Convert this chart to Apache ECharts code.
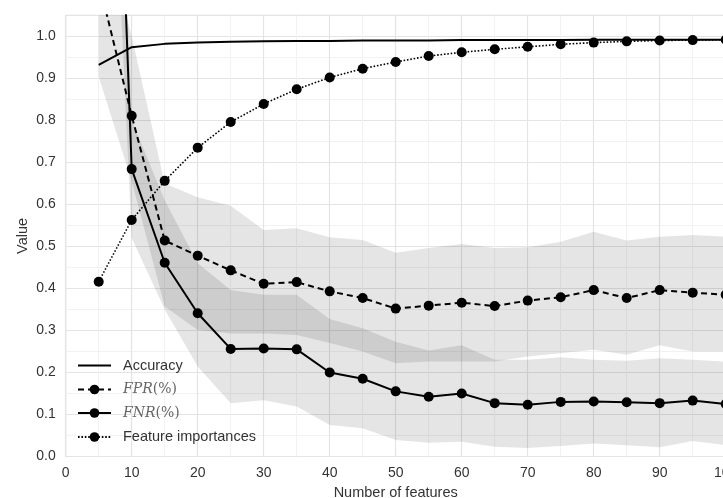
<!DOCTYPE html>
<html>
<head>
<meta charset="utf-8">
<script src="https://cdn.jsdelivr.net/npm/echarts@6/dist/echarts.min.js"></script>
<style>
  html, body { margin: 0; padding: 0; background: #fff; }
  #chart { width: 723px; height: 498px; }
</style>
</head>
<body>
<div id="chart"></div>
<script>
// number of features on the x axis
const features = [5, 10, 15, 20, 25, 30, 35, 40, 45, 50, 55, 60, 65, 70, 75, 80, 85, 90, 95, 100];

// mean curves
const accuracy = [0.932, 0.974, 0.982, 0.985, 0.987, 0.988, 0.989, 0.989, 0.990, 0.990, 0.990, 0.991, 0.991, 0.991, 0.991, 0.992, 0.992, 0.992, 0.992, 0.992];
const fpr = [1.13, 0.811, 0.514, 0.478, 0.443, 0.411, 0.415, 0.393, 0.377, 0.352, 0.359, 0.366, 0.358, 0.371, 0.379, 0.396, 0.377, 0.396, 0.390, 0.385];
const fnr = [2.81, 0.684, 0.461, 0.341, 0.256, 0.257, 0.255, 0.200, 0.185, 0.155, 0.142, 0.150, 0.127, 0.123, 0.130, 0.131, 0.129, 0.127, 0.133, 0.125];
const featImp = [0.416, 0.563, 0.656, 0.735, 0.796, 0.839, 0.874, 0.902, 0.923, 0.939, 0.953, 0.962, 0.969, 0.975, 0.981, 0.985, 0.988, 0.990, 0.991, 0.992];

// spread bands (lower / upper)
const fprLow = [0.904, 0.655, 0.357, 0.301, 0.293, 0.293, 0.289, 0.270, 0.250, 0.222, 0.226, 0.226, 0.226, 0.238, 0.246, 0.254, 0.242, 0.265, 0.250, 0.250];
const fprHigh = [1.30, 1.00, 0.650, 0.617, 0.597, 0.539, 0.543, 0.522, 0.515, 0.485, 0.496, 0.506, 0.496, 0.498, 0.511, 0.535, 0.514, 0.523, 0.527, 0.523];
const fnrLow = [2.20, 0.52, 0.35, 0.214, 0.127, 0.134, 0.119, 0.075, 0.067, 0.039, 0.033, 0.035, 0.023, 0.020, 0.025, 0.031, 0.027, 0.022, 0.037, 0.027];
const fnrHigh = [2.90, 0.80, 0.61, 0.46, 0.396, 0.385, 0.385, 0.327, 0.305, 0.273, 0.252, 0.265, 0.230, 0.230, 0.236, 0.230, 0.228, 0.234, 0.230, 0.226];

const yTicks = [0, 0.1, 0.2, 0.3, 0.4, 0.5, 0.6, 0.7, 0.8, 0.9, 1.0];

const pairs = (ys) => features.map((x, i) => [x, ys[i]]);

// shaded band as one polygon through the axis scales
function band(lo, hi) {
  return {
    type: "custom",
    silent: true,
    clip: true,
    z: 1,
    data: features.map((x, i) => [x, lo[i], hi[i]]),
    encode: { x: 0, y: [1, 2] },
    renderItem: function (params, api) {
      if (params.dataIndex !== 0) return null;
      const pts = [];
      features.forEach((x, i) => pts.push(api.coord([x, hi[i]])));
      for (let i = features.length - 1; i >= 0; i--) pts.push(api.coord([features[i], lo[i]]));
      return {
        type: "polygon",
        shape: { points: pts },
        style: { fill: "rgba(0,0,0,0.1)" },
      };
    },
  };
}

let myChart = echarts.init(document.getElementById("chart"));

const textColor = "#333";
const font = "Liberation Sans, Arial, sans-serif";

myChart.setOption({
  animation: false,
  backgroundColor: "#fff",
  grid: {
    left: 65.7,
    right: -2.7,
    top: 15.3,
    bottom: 41.5,
    outerBoundsMode: "none",
    containLabel: false,
    show: true,
    borderColor: "#dedede",
    borderWidth: 1.2,
  },
  legend: {
    data: [
      { name: "Accuracy", itemStyle: { opacity: 0 } },
      "FPR(%)",
      "FNR(%)",
      "Feature importances",
    ],
    orient: "vertical",
    left: 72,
    top: 353,
    itemWidth: 33,
    itemHeight: 12,
    itemGap: 9.5,
    textStyle: {
      color: textColor,
      fontFamily: font,
      fontSize: 14.5,
      rich: {
        n: { fontFamily: font, fontSize: 14.5, color: textColor, padding: [0, 0, 0, 7] },
        it: { fontFamily: "DejaVu Serif", fontStyle: "italic", fontSize: 14, color: "#666", padding: [0, 0, 0, 7] },
        rm: { fontFamily: "DejaVu Serif", fontSize: 14, color: "#666" },
      },
    },
    formatter: function (name) {
      if (name === "FPR(%)") return "{it|FPR}{rm|(%)}";
      if (name === "FNR(%)") return "{it|FNR}{rm|(%)}";
      return "{n|" + name + "}";
    },
  },
  xAxis: {
    type: "value",
    min: 0,
    max: 100,
    interval: 10,
    name: "Number of features",
    nameLocation: "middle",
    nameGap: 27,
    nameTextStyle: { color: textColor, fontFamily: font, fontSize: 14.5 },
    axisLine: { show: false },
    axisTick: { show: false },
    axisLabel: { color: textColor, fontFamily: font, fontSize: 14, margin: 10 },
    splitLine: { show: true, lineStyle: { color: "#e4e4e4", width: 1.2 } },
    minorTick: { show: false, splitNumber: 2 },
    minorSplitLine: { show: true, lineStyle: { color: "#f2f2f2", width: 1 } },
  },
  yAxis: {
    type: "value",
    min: 0,
    max: 1.05,
    interval: 0.1,
    name: "Value",
    nameLocation: "middle",
    nameGap: 35,
    nameMoveOverlap: false,
    nameTextStyle: { color: textColor, fontFamily: font, fontSize: 14.5 },
    axisLine: { show: false },
    axisTick: { show: false },
    axisLabel: {
      color: textColor,
      fontFamily: font,
      fontSize: 14,
      margin: 10,
      formatter: function (v) {
        if (!yTicks.some((t) => Math.abs(t - v) < 1e-6)) return "";
        return v.toFixed(1);
      },
    },
    splitLine: { show: true, lineStyle: { color: "#e4e4e4", width: 1.2 } },
    minorTick: { show: false, splitNumber: 2 },
    minorSplitLine: { show: true, lineStyle: { color: "#f2f2f2", width: 1 } },
  },
  series: [
    band(fprLow, fprHigh),
    band(fnrLow, fnrHigh),
    {
      name: "Accuracy",
      type: "line",
      data: pairs(accuracy),
      symbol: "none",
      color: "#000",
      lineStyle: { color: "#000", width: 2 },
      z: 5,
    },
    {
      name: "FPR(%)",
      type: "line",
      data: pairs(fpr),
      symbol: "circle",
      symbolSize: 10,
      color: "#000",
      itemStyle: { color: "#000" },
      lineStyle: { color: "#000", width: 2, type: [6, 4] },
      z: 5,
    },
    {
      name: "FNR(%)",
      type: "line",
      data: pairs(fnr),
      symbol: "circle",
      symbolSize: 10,
      color: "#000",
      itemStyle: { color: "#000" },
      lineStyle: { color: "#000", width: 2 },
      z: 5,
    },
    {
      name: "Feature importances",
      type: "line",
      data: pairs(featImp),
      symbol: "circle",
      symbolSize: 10,
      color: "#000",
      itemStyle: { color: "#000" },
      lineStyle: { color: "#000", width: 1.6, type: [1.6, 1.8] },
      z: 5,
    },
  ],
});

window.addEventListener("resize", () => {
  myChart.resize();
});
</script>
</body>
</html>
